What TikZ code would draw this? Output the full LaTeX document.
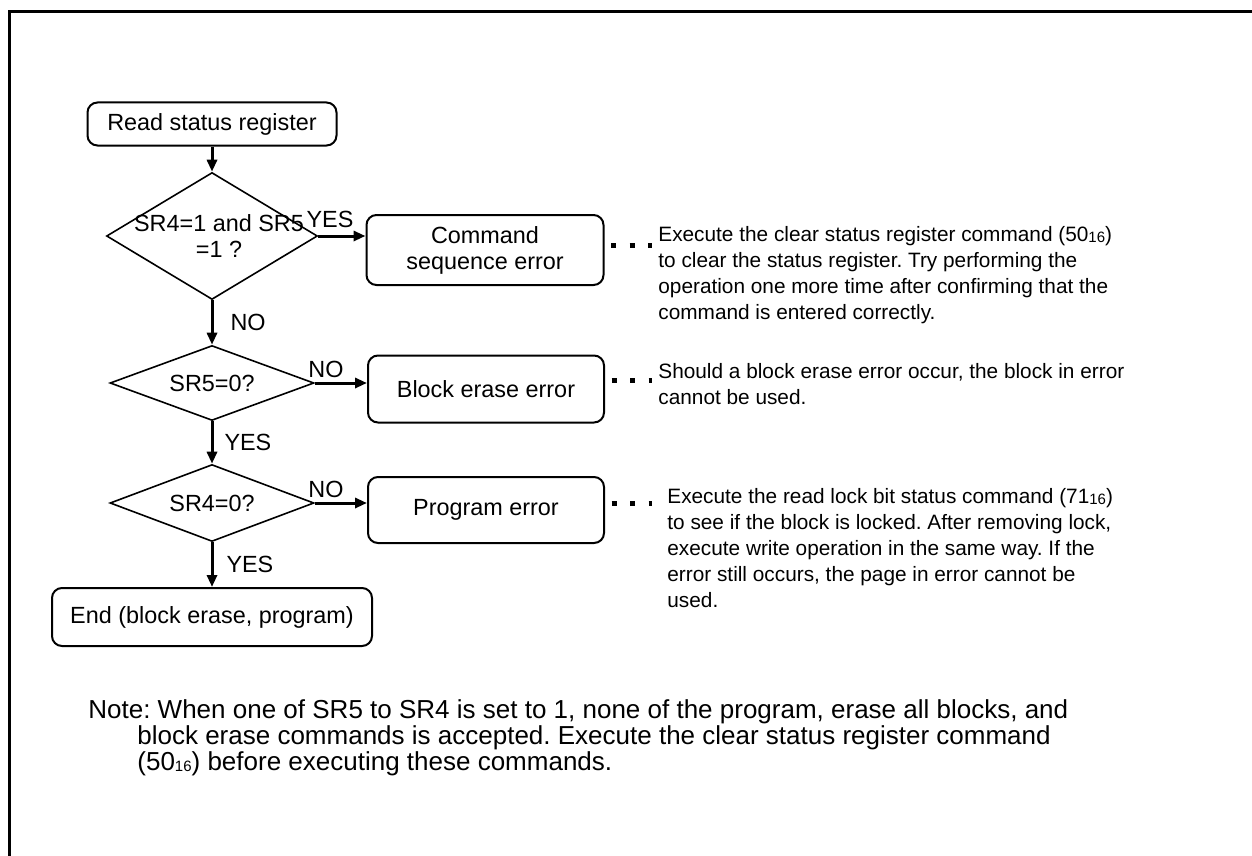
\documentclass[tikz,border=0pt]{standalone}
\usepackage{fontspec}
\setmainfont{Liberation Sans}
\usetikzlibrary{calc, positioning, arrows.meta, shapes.geometric}
\newcommand{\hexval}[1]{#1\raisebox{-0.6pt}{\fontsize{7.5pt}{8pt}\selectfont 16}}

\begin{document}
\frenchspacing
\begin{tikzpicture}[
  x=0.5pt, y=-0.5pt,
  font=\fontsize{11.7pt}{13pt}\selectfont,
  procbox/.style={draw, line width=1pt, rounded corners=5pt, inner sep=0pt, align=center},
  decision/.style={draw, diamond, line width=0.8pt, inner sep=0pt},
  arrow/.style={-{Triangle[length=6pt, width=5pt]}, line width=1.5pt},
  dotlink/.style={line width=2.5pt, dash pattern=on 2.5pt off 6.75pt, shorten <=3.25pt},
  remark/.style={anchor=north west, inner sep=0pt, align=left, font=\fontsize{10.4pt}{13pt}\selectfont},
  answer/.style={inner sep=0pt},
]
  \useasboundingbox (0,0) rectangle (1252,856);
  \draw[line width=1.5pt] (9,856) -- (9,12) -- (1252,12);

  % main column
  \node[procbox, minimum width=124.5pt, minimum height=21.5pt] (read) at (212,124) {Read status register};
  \node[decision, minimum width=105.5pt, minimum height=63.5pt,
        label={[align=center, xshift=3.5pt]center:SR4=1 and SR5\\=1 ?}] (d1) at (212,236) {};
  \node[decision, minimum width=102pt, minimum height=37.5pt,
        label={center:SR5=0?}] (d2) at (212,383) {};
  \node[decision, minimum width=102pt, minimum height=38.5pt,
        label={center:SR4=0?}] (d3) at (212,503) {};
  \node[procbox, minimum width=160pt, minimum height=29pt] (done) at (212,617) {End (block erase, program)};

  % error boxes
  \node[procbox, minimum width=118.5pt, minimum height=35pt] (cse) at (485,250) {Command\\sequence error};
  \node[procbox, minimum width=118pt, minimum height=33.5pt] (blk) at (486,389) {Block erase error};
  \node[procbox, minimum width=118pt, minimum height=33pt] (prg) at (486,510) {Program error};

  \draw[arrow] (read.south) -- (d1.north);
  \draw[arrow] (d1.south) -- node[answer, right=8.5pt] {NO} (d2.north);
  \draw[arrow] (d2.south) -- node[answer, right=5.5pt] {YES} (d3.north);
  \draw[arrow] (d3.south) -- node[answer, right=6.5pt] {YES} (done.north);
  \draw[arrow] (d1.east) -- (d1.east -| cse.west);
  \draw[arrow] (d2.east) -- (d2.east -| blk.west);
  \draw[arrow] (d3.east) -- (d3.east -| prg.west);
  \node[answer] (yes1) at (330,219) {YES};
  \node[answer] (no2) at (326,369) {NO};
  \node[answer] (no3) at (326,489) {NO};

  % remarks
  \node[remark] (t1) at (658,226) {Execute the clear status register command (\hexval{50})\\to clear the status register. Try performing the\\operation one more time after confirming that the\\command is entered correctly.};
  \node[remark] (t2) at (658,363) {Should a block erase error occur, the block in error\\cannot be used.};
  \node[remark] (t3) at (667,488) {Execute the read lock bit status command (\hexval{71})\\to see if the block is locked. After removing lock,\\execute write operation in the same way. If the\\error still occurs, the page in error cannot be\\used.};
  \coordinate (dot1) at (652,245);
  \coordinate (dot2) at (652,380);
  \coordinate (dot3) at (652,503);
  \draw[dotlink] (cse.east |- dot1) -- (dot1);
  \draw[dotlink] (blk.east |- dot2) -- (dot2);
  \draw[dotlink] (prg.east |- dot3) -- (dot3);

  \node[remark, font=\fontsize{13pt}{13pt}\selectfont] (note) at (88,699) {Note: When one of SR5 to SR4 is set to 1, none of the program, erase all blocks, and\\\hspace*{24.5pt}block erase commands is accepted. Execute the clear status register command\\\hspace*{24.5pt}(\hexval{50}) before executing these commands.};
\end{tikzpicture}
\end{document}
